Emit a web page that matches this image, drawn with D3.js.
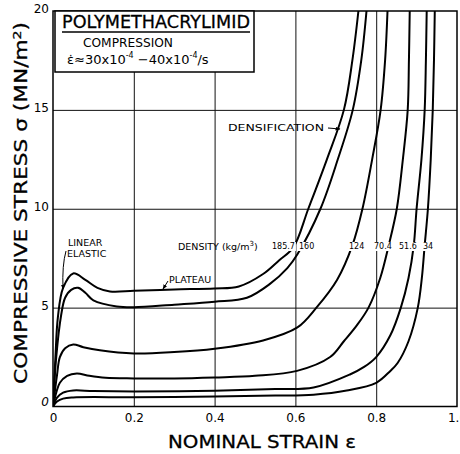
<!DOCTYPE html>
<html><head><meta charset="utf-8">
<script src="https://cdn.jsdelivr.net/npm/d3@7/dist/d3.min.js"></script>
<style>
html,body{margin:0;padding:0;background:#fff;}
svg{display:block;font-family:"DejaVu Sans",sans-serif;}
</style></head>
<body><svg id="c" width="460" height="454"></svg>
<script>
// ---- data (strain, stress MN/m^2) ----
const densities = ["185.7", "160", "124", "70.4", "51.6", "34"];
const d1857 = [[0,0],[0.006,2.5],[0.012,4.5],[0.025,6.0],[0.05,6.73],[0.08,6.4],[0.11,6.0],[0.141,5.82],[0.2,5.85],[0.3,5.92],[0.4,5.97],[0.46,6.07],[0.52,6.7],[0.56,7.4],[0.595,8.05],[0.632,10],[0.678,12.5],[0.72,15],[0.741,17.5],[0.756,20]];
const d160 = [[0,0],[0.008,2.5],[0.02,4.6],[0.03,5.5],[0.045,5.9],[0.062,6.0],[0.08,5.75],[0.1,5.37],[0.158,5.06],[0.2,5.02],[0.3,5.15],[0.4,5.3],[0.48,5.5],[0.537,6.2],[0.58,7.0],[0.605,7.7],[0.662,10],[0.705,12.5],[0.742,15],[0.763,17.5],[0.776,20]];
const d124 = [[0,0],[0.01,1.6],[0.017,2.5],[0.03,2.95],[0.05,3.14],[0.075,3.0],[0.116,2.84],[0.2,2.68],[0.3,2.75],[0.4,2.92],[0.52,3.34],[0.605,4.0],[0.652,5.0],[0.703,6.4],[0.741,8.15],[0.766,10],[0.79,12.5],[0.811,15],[0.822,17.5],[0.828,20]];
const d704 = [[0,0],[0.008,0.7],[0.017,1.2],[0.035,1.55],[0.059,1.67],[0.09,1.55],[0.13,1.45],[0.2,1.42],[0.3,1.42],[0.4,1.47],[0.5,1.55],[0.604,1.8],[0.686,2.5],[0.72,3.3],[0.752,4.1],[0.781,5],[0.81,6.5],[0.831,8.15],[0.851,10],[0.866,12.5],[0.878,15],[0.881,17.5],[0.883,20]];
const d516 = [[0,0],[0.01,0.45],[0.025,0.7],[0.05,0.81],[0.1,0.78],[0.2,0.76],[0.4,0.8],[0.55,0.88],[0.645,0.96],[0.735,1.62],[0.77,2.0],[0.80,2.5],[0.835,3.6],[0.861,5],[0.88,6.5],[0.893,8.15],[0.9,10],[0.912,12.5],[0.92,15],[0.923,17.5],[0.925,20]];
const d34 = [[0,0],[0.01,0.25],[0.025,0.4],[0.05,0.46],[0.2,0.47],[0.4,0.5],[0.55,0.55],[0.645,0.6],[0.727,0.81],[0.8,1.2],[0.835,1.8],[0.853,2.2],[0.88,3.3],[0.903,5],[0.913,6.5],[0.92,8.15],[0.928,10],[0.935,12.5],[0.94,15],[0.943,17.5],[0.945,20]];
const curves = [d1857, d160, d124, d704, d516, d34];
const xTicks = [0, 0.2, 0.4, 0.6, 0.8, 1.0];
const xTickLabels = ["0", "0.2", "0.4", "0.6", "0.8", "1.0"];
const yTicks = [0, 5, 10, 15, 20];
const yTickLabels = ["0", "5", "10", "15", "20"];
const xGrid = [0.2, 0.4, 0.6, 0.8];
const yGrid = [5, 10, 15];

// ---- layout ----
const svg = d3.select("#c");
const x = d3.scaleLinear().domain([0, 1]).range([53, 457]);
const y = d3.scaleLinear().domain([0, 20]).range([406.5, 11]);

const defs = svg.append("defs");
defs.append("clipPath").attr("id", "clip")
  .append("rect").attr("x", x(0)).attr("y", y(20)).attr("width", x(1) - x(0)).attr("height", y(0) - y(20));
defs.append("marker").attr("id", "arr").attr("viewBox", "0 0 10 10").attr("refX", 9).attr("refY", 5)
  .attr("markerWidth", 5).attr("markerHeight", 5).attr("orient", "auto-start-reverse")
  .append("path").attr("d", "M0,1 L10,5 L0,9 z").attr("fill", "#000");

// grid
svg.append("g").attr("transform", `translate(0,${y(0)})`)
  .call(d3.axisBottom(x).tickValues(xGrid).tickSize(-(y(0) - y(20))).tickFormat(""))
  .call(g => g.select(".domain").remove())
  .call(g => g.selectAll("line").attr("stroke", "#111").attr("stroke-width", 1));
svg.append("g").attr("transform", `translate(${x(0)},0)`)
  .call(d3.axisLeft(y).tickValues(yGrid).tickSize(-(x(1) - x(0))).tickFormat(""))
  .call(g => g.select(".domain").remove())
  .call(g => g.selectAll("line").attr("stroke", "#111").attr("stroke-width", 1));

// frame
svg.append("rect").attr("x", x(0)).attr("y", y(20)).attr("width", x(1) - x(0)).attr("height", y(0) - y(20))
  .attr("fill", "none").attr("stroke", "#000").attr("stroke-width", 1.5);

// curves
const line = d3.line().x(d => x(d[0])).y(d => y(d[1])).curve(d3.curveCatmullRom.alpha(0.5));
svg.append("g").attr("clip-path", "url(#clip)").selectAll("path").data(curves).join("path")
  .attr("d", line).attr("fill", "none").attr("stroke", "#000").attr("stroke-width", 2);

// tick labels
svg.append("g").attr("transform", `translate(0,${y(0)})`)
  .call(d3.axisBottom(x).tickValues(xTicks).tickSize(0).tickPadding(7).tickFormat((d, i) => xTickLabels[i]))
  .call(g => g.select(".domain").remove())
  .call(g => g.selectAll("text").attr("font-size", 12).attr("font-family", "DejaVu Sans").attr("fill", "#000"));
svg.append("g").attr("transform", `translate(${x(0)},0)`)
  .call(d3.axisLeft(y).tickValues(yTicks).tickSize(0).tickPadding(4).tickFormat((d, i) => yTickLabels[i]))
  .call(g => g.select(".domain").remove())
  .call(g => g.selectAll("text").attr("font-size", 12).attr("font-family", "DejaVu Sans").attr("fill", "#000").attr("dy", "0.15em"))
  .call(g => g.selectAll(".tick").filter(d => d === 0).select("text").attr("font-style", "italic").attr("dy", "-0.05em"));

// axis titles
svg.append("text").attr("x", 262).attr("y", 448).attr("text-anchor", "middle")
  .attr("font-size", 18).attr("fill", "#000").attr("stroke", "#000").attr("stroke-width", 0.3)
  .attr("textLength", 188).attr("lengthAdjust", "spacingAndGlyphs").text("NOMINAL STRAIN  \u03B5");
svg.append("text").attr("transform", "translate(27,203) rotate(-90)").attr("text-anchor", "middle")
  .attr("font-size", 17).attr("fill", "#000").attr("stroke", "#000").attr("stroke-width", 0.3)
  .attr("textLength", 362).attr("lengthAdjust", "spacingAndGlyphs")
  .html('COMPRESSIVE STRESS \u03C3 (MN/m<tspan dy="-6" font-size="11">2</tspan><tspan dy="6">)</tspan>');

// title box
svg.append("rect").attr("x", x(0) + 2).attr("y", y(20)).attr("width", 199).attr("height", 61)
  .attr("fill", "#fff").attr("stroke", "#000").attr("stroke-width", 1.5);
svg.append("text").attr("x", 62).attr("y", 28).attr("font-size", 18).attr("fill", "#000")
  .attr("stroke", "#000").attr("stroke-width", 0.3)
  .attr("textLength", 188).attr("lengthAdjust", "spacingAndGlyphs").text("POLYMETHACRYLIMID");
svg.append("line").attr("x1", 62).attr("x2", 250).attr("y1", 32).attr("y2", 32).attr("stroke", "#000").attr("stroke-width", 1.3);
svg.append("text").attr("x", 83).attr("y", 47).attr("font-size", 12.5).attr("fill", "#000")
  .attr("textLength", 90).attr("lengthAdjust", "spacingAndGlyphs").text("COMPRESSION");
svg.append("text").attr("x", 67).attr("y", 64).attr("font-size", 13).attr("fill", "#000")
  .html('\u03B5\u0307\u224830x10<tspan dy="-6" font-size="8">-4</tspan><tspan dy="6"> \u221240x10</tspan><tspan dy="-6" font-size="8">-4</tspan><tspan dy="6">/s</tspan>');

// annotations
const ann = svg.append("g").attr("font-size", 9.5).attr("fill", "#000");
ann.append("text").attr("x", 228).attr("y", 131).attr("textLength", 96).attr("lengthAdjust", "spacingAndGlyphs").text("DENSIFICATION");
svg.append("line").attr("x1", 328).attr("y1", 128).attr("x2", 340).attr("y2", 129)
  .attr("stroke", "#000").attr("stroke-width", 1).attr("marker-end", "url(#arr)");
ann.append("text").attr("x", 68).attr("y", 246).text("LINEAR");
ann.append("text").attr("x", 67).attr("y", 257).text("ELASTIC");
svg.append("path").attr("d", "M66,251 Q62,265 63,289").attr("fill", "none")
  .attr("stroke", "#000").attr("stroke-width", 1).attr("marker-end", "url(#arr)");
ann.append("text").attr("x", 169).attr("y", 283).text("PLATEAU");
svg.append("line").attr("x1", 168).attr("y1", 281).attr("x2", 163).attr("y2", 289)
  .attr("stroke", "#000").attr("stroke-width", 1).attr("marker-end", "url(#arr)");
ann.append("text").attr("x", 178).attr("y", 250).html('DENSITY (kg/m<tspan dy="-4" font-size="7">3</tspan><tspan dy="4">)</tspan>');

// density labels on curves
const labelX = [272, 299, 349, 374, 399, 423];
const lab = svg.append("g");
densities.forEach((d, i) => {
  const t = lab.append("text").attr("x", labelX[i]).attr("y", 249)
    .attr("font-size", 8).attr("fill", "#000").text(d);
  const bb = t.node().getBBox();
  lab.insert("rect", "text").attr("x", bb.x - 1).attr("y", bb.y).attr("width", bb.width + 2).attr("height", bb.height)
    .attr("fill", "#fff");
});
</script></body></html>
